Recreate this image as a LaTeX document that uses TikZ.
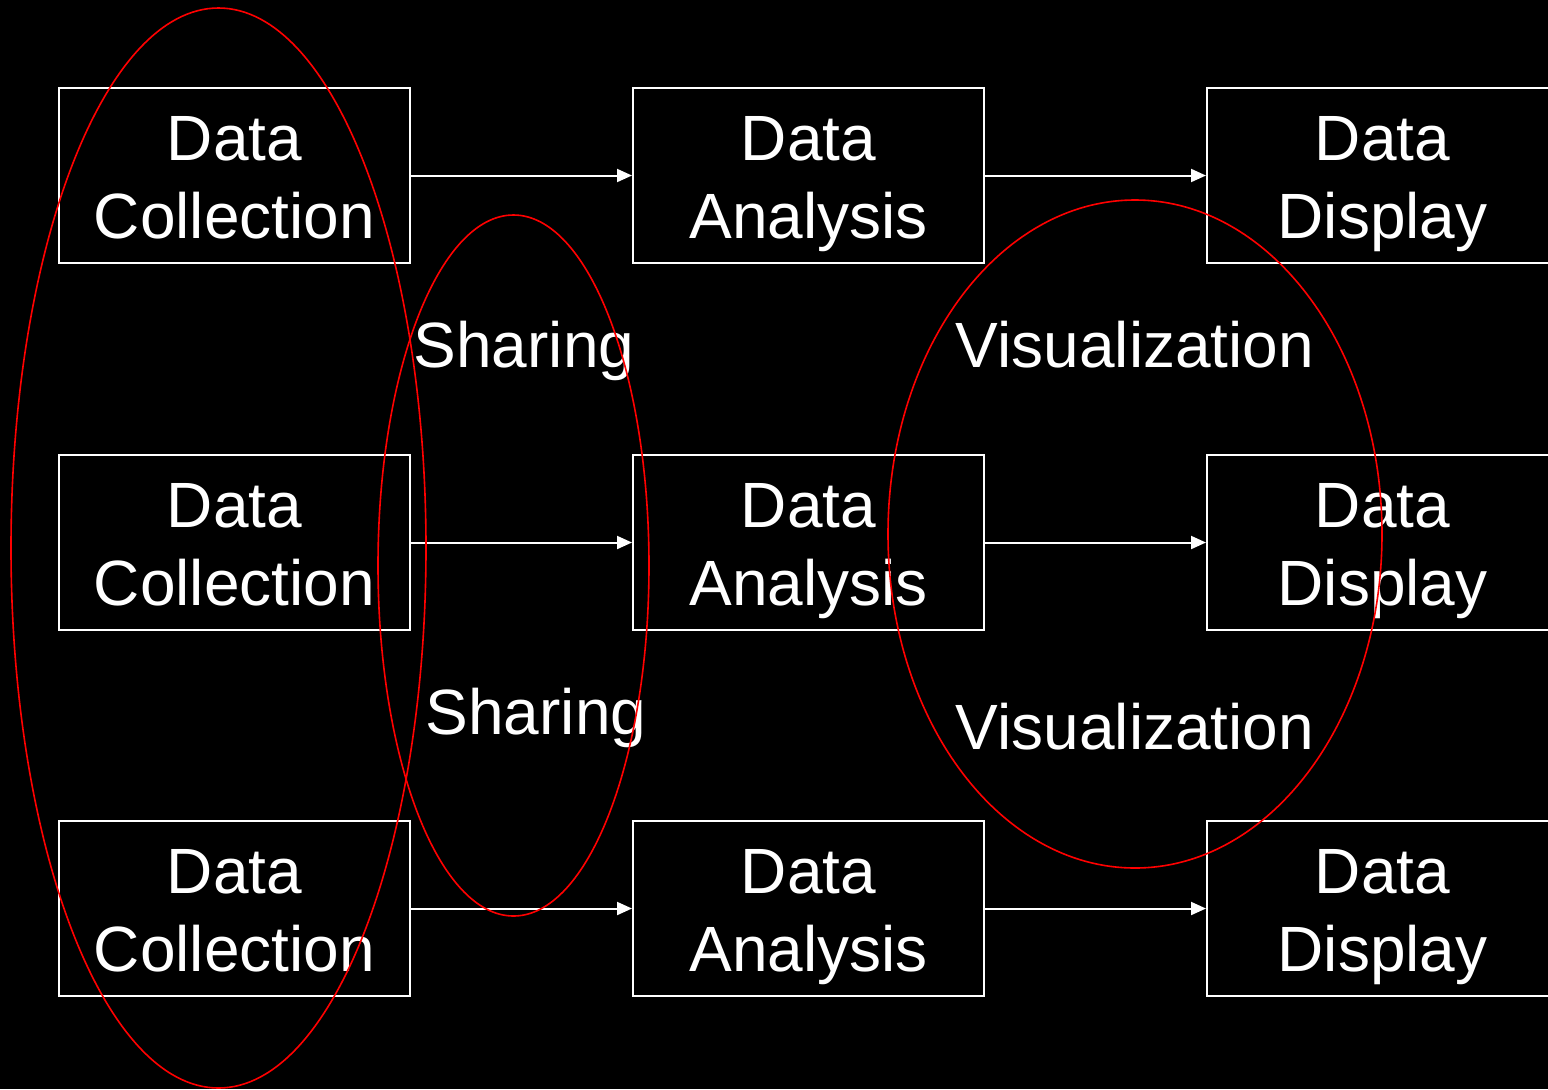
\documentclass[tikz,border=0pt]{standalone}
\usepackage{fontspec}
\setmainfont{Liberation Sans}
\usetikzlibrary{arrows.meta}
\begin{document}
\begin{tikzpicture}[x=0.5pt,y=-0.5pt,
  box/.style={draw=white,line width=1pt,minimum width=175.5pt,minimum height=87.5pt,inner sep=0pt},
  txt/.style={text=white,font=\fontsize{32}{38}\selectfont,inner sep=0pt,anchor=base},
  arr/.style={draw=white,line width=1pt,-{Triangle[length=7.5pt,width=6.5pt]}},
  ring/.style={draw=red,line width=0.8pt}]
\fill[black] (0,0) rectangle (1548,1089);
\useasboundingbox (0,0) rectangle (1548,1089);
\clip (0,0) rectangle (1548,1089);
\foreach \r/\y in {1/175.5,2/542.5,3/908.5}{
  \node[box] (c\r) at (234.5,\y) {};
  \node[box] (a\r) at (808.5,\y) {};
  \node[box] (d\r) at (1382.5,\y) {};
  \node[txt] (c\r t1) at ([yshift=7.75pt]c\r.center) {Data};
  \node[txt] (c\r t2) at ([yshift=-31.25pt]c\r.center) {Collection};
  \node[txt] (a\r t1) at ([yshift=7.75pt]a\r.center) {Data};
  \node[txt] (a\r t2) at ([yshift=-31.25pt]a\r.center) {Analysis};
  \node[txt] (d\r t1) at ([yshift=7.75pt]d\r.center) {Data};
  \node[txt] (d\r t2) at ([yshift=-31.25pt]d\r.center) {Display};
  \draw[arr] (c\r.east) -- (a\r.west);
  \draw[arr] (a\r.east) -- (d\r.west);
}
\node[txt] (s1) at (524,367) {Sharing};
\node[txt] (s2) at (536,734) {Sharing};
\node[txt] (v1) at (1135,367) {Visualization};
\node[txt] (v2) at (1135,749) {Visualization};
\draw[ring] (218.5,548) ellipse [x radius=207.5,y radius=540];
\draw[ring] (513.5,565.5) ellipse [x radius=135.5,y radius=350.5];
\draw[ring] (1135,534) ellipse [x radius=247,y radius=334];
\end{tikzpicture}
\end{document}
